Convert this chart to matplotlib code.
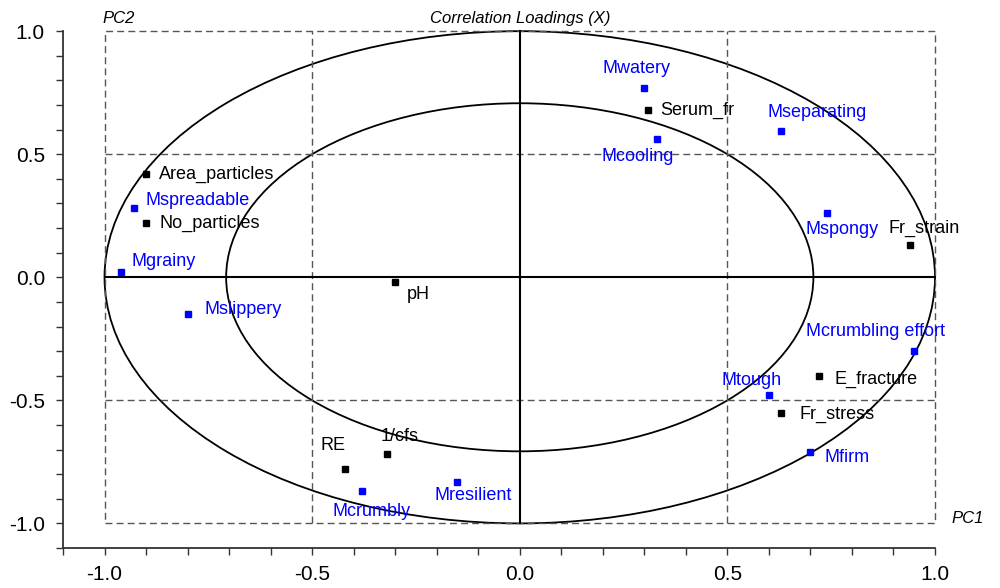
import numpy as np
import matplotlib.pyplot as plt
from matplotlib.patches import Circle
from matplotlib.ticker import MultipleLocator

plt.rcParams['font.family'] = ['Liberation Sans', 'DejaVu Sans']

# Данные: переменные X (чёрные) и сенсорные (синие)
x_names = ['Area_particles', 'No_particles', 'pH', 'Serum_fr', 'Fr_strain',
           'RE', '1/cfs', 'E_fracture', 'Fr_stress']
x_pc1 = [-0.90, -0.90, -0.30, 0.31, 0.94, -0.42, -0.32, 0.72, 0.63]
x_pc2 = [0.42, 0.22, -0.02, 0.68, 0.13, -0.78, -0.72, -0.40, -0.55]

m_names = ['Mspreadable', 'Mgrainy', 'Mslippery', 'Mwatery', 'Mcooling',
           'Mseparating', 'Mspongy', 'Mcrumbly', 'Mresilient',
           'Mcrumbling effort', 'Mtough', 'Mfirm']
m_pc1 = [-0.93, -0.96, -0.80, 0.30, 0.33, 0.63, 0.74, -0.38, -0.15,
         0.95, 0.60, 0.70]
m_pc2 = [0.28, 0.02, -0.15, 0.77, 0.56, 0.595, 0.26, -0.87, -0.83,
         -0.30, -0.48, -0.71]

# Смещения подписей (пиксели) и выравнивание
x_offs = {'Area_particles': (13, 0, 'left'), 'No_particles': (13, 0, 'left'),
          'pH': (12, -12, 'left'), 'Serum_fr': (12, 0, 'left'),
          'Fr_strain': (14, 17, 'center'), 'RE': (-12, 24, 'center'),
          '1/cfs': (13, 18, 'center'), 'E_fracture': (16, -4, 'left'),
          'Fr_stress': (18, -2, 'left')}
m_offs = {'Mspreadable': (12, 8, 'left'), 'Mgrainy': (10, 11, 'left'),
          'Mslippery': (17, 5, 'left'), 'Mwatery': (-8, 19, 'center'),
          'Mcooling': (-19, -17, 'center'), 'Mseparating': (36, 18, 'center'),
          'Mspongy': (15, -16, 'center'), 'Mcrumbly': (10, -20, 'center'),
          'Mresilient': (16, -14, 'center'),
          'Mcrumbling effort': (-39, 20, 'center'),
          'Mtough': (-17, 15, 'center'), 'Mfirm': (14, -5, 'left')}

fig = plt.figure(figsize=(10, 5.88), dpi=100)
ax = fig.add_axes([0.063, 0.068, 0.872, 0.879])
ax.set_xlim(-1.1, 1.0)
ax.set_ylim(-1.1, 1.0)

# Эллипсы корреляции (100% и 50% объяснённой дисперсии)
for r in [1.0, np.sqrt(0.5)]:
    ax.add_patch(Circle((0, 0), r, fill=False, color='black', lw=1.3,
                        zorder=2, clip_on=False))

# Пунктирная сетка
gc = '#555555'
ax.plot([-1, 1, 1, -1, -1], [-1, -1, 1, 1, -1], ls='--', color=gc, lw=1,
        dashes=(5, 3), clip_on=False)
for v in [-0.5, 0.5]:
    ax.plot([v, v], [-1, 1], ls='--', color=gc, lw=1, dashes=(5, 3), clip_on=False)
    ax.plot([-1, 1], [v, v], ls='--', color=gc, lw=1, dashes=(5, 3), clip_on=False)
ax.plot([-1, 1], [0, 0], color='black', lw=1.5, clip_on=False)
ax.plot([0, 0], [-1, 1], color='black', lw=1.5, clip_on=False)

ax.plot(x_pc1, x_pc2, 's', color='black', ms=5, zorder=3)
ax.plot(m_pc1, m_pc2, 's', color='blue', ms=5, zorder=3)

for name, px, py in zip(x_names, x_pc1, x_pc2):
    dx, dy, ha = x_offs[name]
    ax.annotate(name, (px, py), xytext=(dx, dy), textcoords='offset pixels',
                ha=ha, va='center', fontsize=13, color='black')
for name, px, py in zip(m_names, m_pc1, m_pc2):
    dx, dy, ha = m_offs[name]
    ax.annotate(name, (px, py), xytext=(dx, dy), textcoords='offset pixels',
                ha=ha, va='center', fontsize=13, color='blue')

fig.text(0.52, 0.969, 'Correlation Loadings (X)', ha='center', va='center',
         fontsize=12, style='italic')
fig.text(0.119, 0.969, 'PC2', ha='center', va='center', fontsize=12, style='italic')
fig.text(0.968, 0.119, 'PC1', ha='center', va='center', fontsize=12, style='italic')

ax.spines['top'].set_visible(False)
ax.spines['right'].set_visible(False)
for s in ['left', 'bottom']:
    ax.spines[s].set_linewidth(1.3)
    ax.spines[s].set_color('#333333')
ax.set_xticks([-1.0, -0.5, 0.0, 0.5, 1.0])
ax.set_yticks([-1.0, -0.5, 0.0, 0.5, 1.0])
ax.xaxis.set_minor_locator(MultipleLocator(0.1))
ax.yaxis.set_minor_locator(MultipleLocator(0.1))
ax.tick_params(which='both', direction='out', length=5, width=1, color='#333333',
               labelsize=15)
ax.tick_params(axis='x', pad=7)
ax.tick_params(axis='y', pad=8)
ax.set_xticklabels(['-1.0', '-0.5', '0.0', '0.5', '1.0'])
ax.set_yticklabels(['-1.0', '-0.5', '0.0', '0.5', '1.0'])

fig.savefig('out.png', dpi=100)
